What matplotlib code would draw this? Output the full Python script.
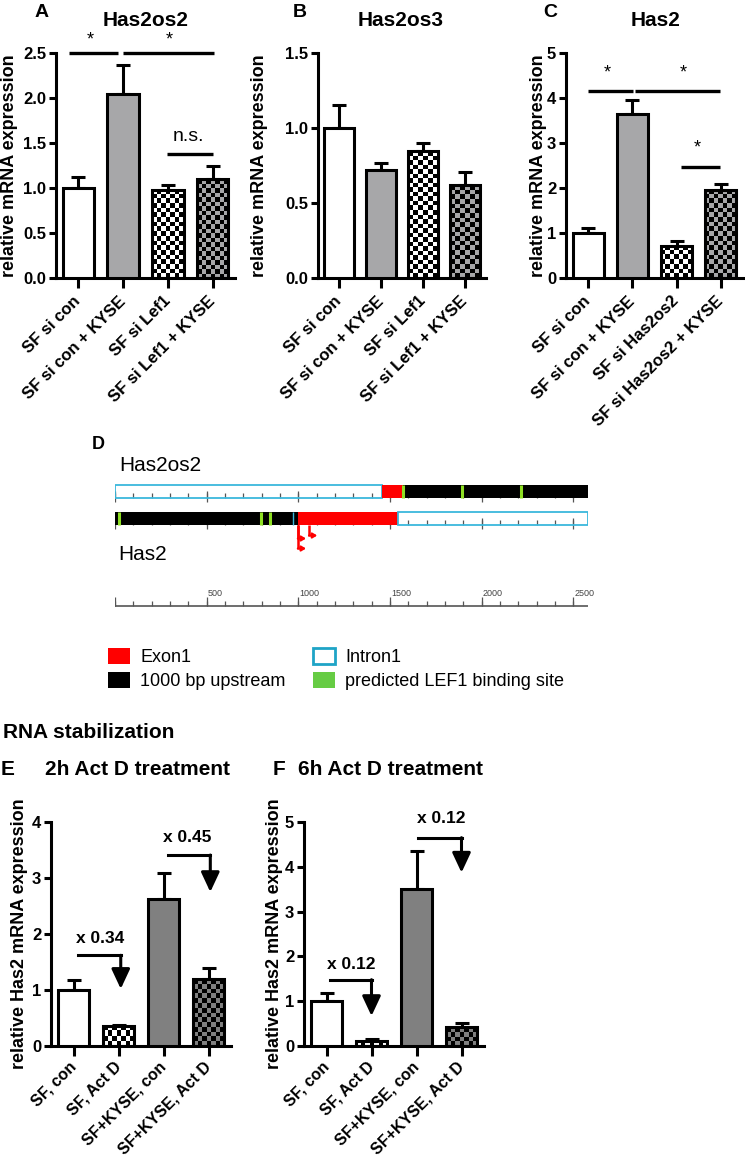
import numpy as np
import matplotlib
matplotlib.use("Agg")
import matplotlib.pyplot as plt
from matplotlib.colors import ListedColormap
from matplotlib.patches import Patch, Rectangle

plt.rcParams["font.family"] = ["Liberation Sans", "DejaVu Sans"]
plt.rcParams["font.weight"] = "bold"
plt.rcParams["axes.labelweight"] = "bold"

W, H = 745, 1159

# --- A-C: knockdown experiments
labels_lef = ["SF si con", "SF si con + KYSE", "SF si Lef1", "SF si Lef1 + KYSE"]
labels_has = ["SF si con", "SF si con + KYSE", "SF si Has2os2", "SF si Has2os2 + KYSE"]
has2os2_mean = [1.00, 2.04, 0.98, 1.10]
has2os2_err = [0.12, 0.33, 0.05, 0.15]
has2os3_mean = [1.00, 0.72, 0.845, 0.62]
has2os3_err = [0.155, 0.05, 0.055, 0.09]
has2_mean = [1.00, 3.64, 0.72, 1.96]
has2_err = [0.12, 0.32, 0.11, 0.14]

# --- E-F: actinomycin D
labels_actd = ["SF, con", "SF, Act D", "SF+KYSE, con", "SF+KYSE, Act D"]
actd2_mean = [1.00, 0.36, 2.63, 1.19]
actd2_err = [0.17, 0.02, 0.46, 0.21]
actd6_mean = [1.00, 0.12, 3.51, 0.42]
actd6_err = [0.18, 0.03, 0.85, 0.09]
fold_2h = ["x 0.34", "x 0.45"]
fold_6h = ["x 0.12", "x 0.12"]

# --- D: gene map (bp)
has2os2_segments = [(0, 1458, "intron"), (1458, 1570, "exon"), (1570, 2580, "upstream")]
has2os2_sites = [1573, 1890, 2217]
has2_segments = [(0, 1000, "upstream"), (1000, 1546, "exon"), (1546, 2580, "intron")]
has2_sites = [20, 795, 843]
has2_tss = [997, 997, 1058]

CYAN = "#3ab8dc"
GREEN = "#8fe024"
LIGHT = "#a7a7a9"
DARK = "#808080"

fig = plt.figure(figsize=(W / 100, H / 100), dpi=100)


def px_axes(left, top, right, bottom):
    return fig.add_axes([left / W, 1 - bottom / H, (right - left) / W, (bottom - top) / H])


def px_text(x, y, s, **kw):
    fig.text(x / W, 1 - y / H, s, **kw)


def checker(ax, bar, face, cell=4.6):
    bb = ax.get_window_extent()
    xl, yl = ax.get_xlim(), ax.get_ylim()
    nx = max(1, round(bar.get_width() / (xl[1] - xl[0]) * bb.width / cell))
    ny = max(1, round(bar.get_height() / (yl[1] - yl[0]) * bb.height / cell))
    grid = np.add.outer(np.arange(ny), np.arange(nx)) % 2
    x0, y0 = bar.get_x(), bar.get_y()
    ax.imshow(grid, cmap=ListedColormap([face, "black"]), vmin=0, vmax=1,
              extent=(x0, x0 + bar.get_width(), y0, y0 + bar.get_height()),
              origin="lower", interpolation="nearest", aspect="auto", zorder=2.5)


def bar_panel(ax, means, errs, labels, faces, checked, ymax, yticks, fmt, ylabel, label_x,
              xsize=12, xpad=8):
    x = np.arange(len(means))
    ax.set_xlim(-0.5, 3.5)
    ax.set_ylim(0, ymax)
    colors = ["none" if c else f for f, c in zip(faces, checked)]
    bars = ax.bar(x, means, width=0.7, color=colors, edgecolor="black", linewidth=2.2, zorder=3)
    ax.errorbar(x, means, yerr=[np.zeros(len(errs)), errs], fmt="none", ecolor="black",
                elinewidth=2.2, capsize=5, capthick=2.2, zorder=2)
    for bar, f, c in zip(bars, faces, checked):
        if c:
            checker(ax, bar, f)
    ax.set_xlim(-0.5, 3.5)
    ax.set_ylim(0, ymax)
    for s in ["top", "right"]:
        ax.spines[s].set_visible(False)
    for s in ["left", "bottom"]:
        ax.spines[s].set_linewidth(2.2)
    ax.set_yticks(yticks)
    ax.set_yticklabels([fmt.format(v) for v in yticks])
    ax.set_xticks(x)
    ax.set_xticklabels(labels, rotation=45, ha="right", va="center", rotation_mode="anchor",
                       fontsize=xsize)
    ax.tick_params(axis="both", width=2.2)
    ax.tick_params(axis="y", length=5, pad=2, labelsize=12)
    ax.tick_params(axis="x", length=7, pad=xpad)
    ax.set_ylabel(ylabel, fontsize=13)
    ax.yaxis.set_label_coords(label_x, 0.5)


def sig(ax, x0, x1, y, text, tx, ty, size=13, weight="normal"):
    ax.plot([x0, x1], [y, y], color="black", lw=2.4, clip_on=False, solid_capstyle="butt")
    ax.text(tx, ty, text, ha="center", va="center", fontsize=size, fontweight=weight)


def fold_arrow(ax, x0, x1, y_line, y_tip, text, tx, ty):
    ax.plot([x0, x1], [y_line, y_line], color="black", lw=2.2, clip_on=False,
            solid_capstyle="projecting")
    ax.annotate("", xy=(x1, y_tip), xytext=(x1, y_line), annotation_clip=False,
                arrowprops=dict(arrowstyle="-|>,head_length=0.6,head_width=0.28",
                                color="black", lw=2.2, shrinkA=0, shrinkB=0, mutation_scale=20))
    ax.text(tx, ty, text, ha="center", va="center", fontsize=12.5, fontweight="bold")


# ---------- A ----------
faces_kd = ["white", LIGHT, "white", LIGHT]
checked_kd = [False, False, True, True]
ax_a = px_axes(56, 53, 235, 278)
bar_panel(ax_a, has2os2_mean, has2os2_err, labels_lef, faces_kd, checked_kd, 2.5,
          [0, 0.5, 1.0, 1.5, 2.0, 2.5], "{:.1f}", "relative mRNA expression", -0.21)
sig(ax_a, -0.2, 0.88, 2.5, "*", 0.26, 2.64)
sig(ax_a, 0.99, 3.04, 2.5, "*", 2.02, 2.64)
sig(ax_a, 1.97, 3.0, 1.38, "n.s.", 2.45, 1.57, size=14)

# ---------- B ----------
ax_b = px_axes(318, 53, 486, 278)
bar_panel(ax_b, has2os3_mean, has2os3_err, labels_lef, faces_kd, checked_kd, 1.5,
          [0, 0.5, 1.0, 1.5], "{:.1f}", "relative mRNA expression", -0.30)

# ---------- C ----------
ax_c = px_axes(566, 53, 743, 278)
bar_panel(ax_c, has2_mean, has2_err, labels_has, faces_kd, checked_kd, 5,
          [0, 1, 2, 3, 4, 5], "{:d}", "relative mRNA expression", -0.107)
sig(ax_c, 0.0, 1.02, 4.16, "*", 0.43, 4.55)
sig(ax_c, 1.07, 2.98, 4.16, "*", 2.14, 4.55)
sig(ax_c, 2.1, 2.98, 2.46, "*", 2.47, 2.88)

for x, letter in [(35, "A"), (293, "B"), (543, "C")]:
    px_text(x, 17, letter, fontsize=14, ha="left", va="baseline")
for x, title in [(146, "Has2os2"), (401, "Has2os3"), (656, "Has2")]:
    px_text(x, 26, title, fontsize=15, ha="center", va="baseline")

# ---------- D ----------
ax_d = px_axes(115, 440, 588, 615)
ax_d.set_xlim(0, 2580)
ax_d.set_ylim(175, 0)
ax_d.axis("off")
TRACK_H = 12.5
fills = {"exon": "#ff0000", "upstream": "black"}
for y0, segs, sites in [(45, has2os2_segments, has2os2_sites), (72, has2_segments, has2_sites)]:
    yb = y0 + TRACK_H
    ax_d.vlines(np.arange(0, 2581, 100), yb - 5, yb, color="#555555", lw=0.9, zorder=1)
    ax_d.vlines(np.arange(0, 2581, 500), yb - 7, yb + 4, color="#555555", lw=0.9, zorder=1)
    for start, end, kind in segs:
        if kind == "intron":
            ax_d.add_patch(Rectangle((start, y0), end - start, TRACK_H, facecolor="none",
                                     edgecolor=CYAN, lw=1.3, zorder=2))
        else:
            ax_d.add_patch(Rectangle((start, y0), end - start, TRACK_H, facecolor=fills[kind],
                                     edgecolor="none", zorder=2))
    ax_d.vlines(sites, y0, yb, color=GREEN, lw=2.2, zorder=3)
ax_d.vlines([972], 72, 72 + TRACK_H, color=CYAN, lw=1.0, zorder=3)

# transcription start sites of Has2
yb2 = 72 + TRACK_H
for pos, drop in zip(has2_tss, [14, 24, 11]):
    ax_d.plot([pos, pos], [yb2, yb2 + drop], color="red", lw=1.8, solid_capstyle="butt")
    ax_d.annotate("", xy=(pos + 45, yb2 + drop), xytext=(pos, yb2 + drop),
                  arrowprops=dict(arrowstyle="-|>,head_length=0.5,head_width=0.3", color="red",
                                  lw=1.5, shrinkA=0, shrinkB=0, mutation_scale=5))

# ruler
ax_d.hlines(166, 0, 2580, color="#555555", lw=1.2)
ax_d.vlines(np.arange(0, 2581, 100), 161, 166, color="#555555", lw=0.9)
ax_d.vlines(np.arange(0, 2581, 500), 157, 166, color="#555555", lw=0.9)
for v in range(500, 2501, 500):
    ax_d.text(v + 6, 156, str(v), fontsize=6.5, color="#444444", ha="left", va="baseline",
              fontweight="normal")

ax_d.text(22, 31, "Has2os2", fontsize=15, fontweight="normal", va="baseline", ha="left")
ax_d.text(18, 120, "Has2", fontsize=15, fontweight="normal", va="baseline", ha="left")
px_text(92, 449, "D", fontsize=13, ha="left", va="baseline")

handles = [Patch(facecolor="#ff0000", edgecolor="none"), Patch(facecolor="black", edgecolor="none"),
           Patch(facecolor="white", edgecolor="#1ea4c6", lw=2), Patch(facecolor="#66cc44", edgecolor="none")]
fig.legend(handles, ["Exon1", "1000 bp upstream", "Intron1", "predicted LEF1 binding site"],
           ncol=2, loc="upper left", bbox_to_anchor=(108 / W, 1 - 648 / H), frameon=False,
           prop={"size": 13, "weight": "normal"}, handlelength=1.2, handleheight=1.0,
           handletextpad=0.6, columnspacing=1.5, labelspacing=0.3, borderpad=0, borderaxespad=0)

px_text(3, 738, "RNA stabilization", fontsize=15, ha="left", va="baseline")

# ---------- E ----------
faces_actd = ["white", "white", DARK, DARK]
checked_actd = [False, True, False, True]
ax_e = px_axes(51, 822, 231, 1046)
bar_panel(ax_e, actd2_mean, actd2_err, labels_actd, faces_actd, checked_actd, 4,
          [0, 1, 2, 3, 4], "{:d}", "relative Has2 mRNA expression", -0.125, xsize=11.5, xpad=6)
fold_arrow(ax_e, 0.1, 1.05, 1.62, 1.02, fold_2h[0], 0.6, 1.92)
fold_arrow(ax_e, 2.09, 3.04, 3.41, 2.75, fold_2h[1], 2.53, 3.72)

# ---------- F ----------
ax_f = px_axes(304, 822, 484, 1046)
bar_panel(ax_f, actd6_mean, actd6_err, labels_actd, faces_actd, checked_actd, 5,
          [0, 1, 2, 3, 4, 5], "{:d}", "relative Has2 mRNA expression", -0.114, xsize=11.5, xpad=6)
fold_arrow(ax_f, 0.07, 1.0, 1.48, 0.67, fold_6h[0], 0.56, 1.81)
fold_arrow(ax_f, 2.04, 3.0, 4.65, 3.87, fold_6h[1], 2.56, 5.07)

px_text(1, 775, "E", fontsize=15, ha="left", va="baseline")
px_text(45, 775, "2h Act D treatment", fontsize=15, ha="left", va="baseline")
px_text(273, 775, "F", fontsize=15, ha="left", va="baseline")
px_text(298, 775, "6h Act D treatment", fontsize=15, ha="left", va="baseline")

fig.savefig("out.png", dpi=100)
